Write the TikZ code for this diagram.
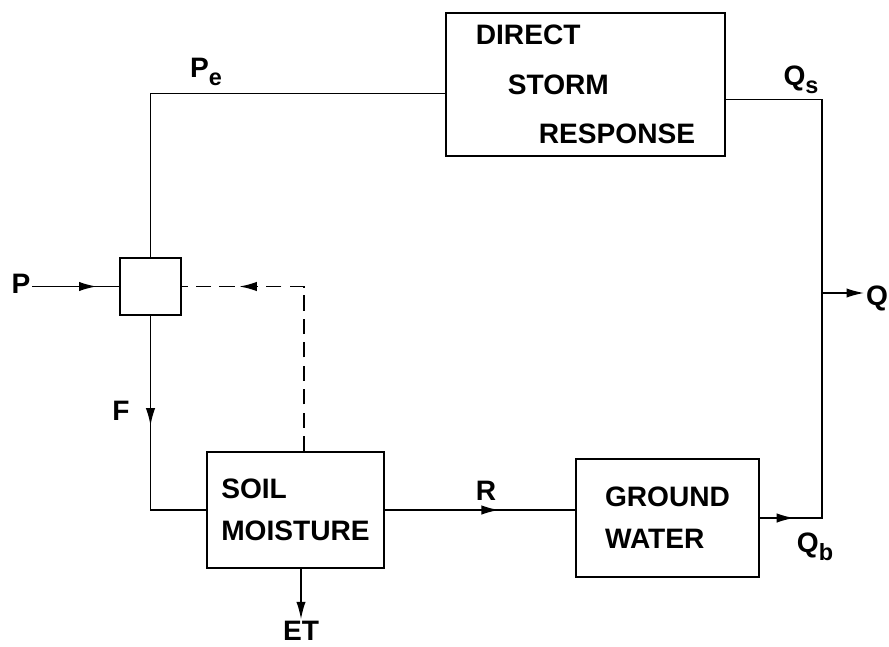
\documentclass[tikz,border=0pt]{standalone}
\usepackage{fontspec}
\setmainfont{Liberation Sans}
\usetikzlibrary{arrows.meta,decorations.markings}
\newcommand{\lowidx}[1]{\raisebox{-0.5ex}{\fontsize{20}{20}\selectfont\bfseries #1}}
\tikzset{
  flowline/.style={line width=1.4pt},
  feedback/.style={line width=1.4pt, dash pattern=on 13pt off 7pt},
  blockbox/.style={draw, line width=1.4pt, align=left, inner sep=0pt},
  junctionbox/.style={draw, line width=1.4pt, minimum width=1.83cm, minimum height=1.71cm, inner sep=0pt},
  varlabel/.style={inner sep=1.5pt},
  endarrow/.style={-{Latex[length=15pt, width=8pt]}},
  arrowat/.style={postaction={decorate}, decoration={markings, mark=at position #1 with {\arrow{Latex[length=15pt, width=8pt]}}}}
}

\begin{document}
\begin{tikzpicture}[x=0.03cm, y=-0.03cm, every node/.style={font=\fontsize{24}{36}\selectfont\bfseries}]
  \useasboundingbox (0,0) rectangle (889,647);
  \node[junctionbox] (mix) at (150.5,286.5) {};
  \node[blockbox, minimum width=8.37cm, minimum height=4.29cm, font=\fontsize{24}{42}\selectfont\bfseries] (storm) at (585.5,84.5) {DIRECT\\\hspace*{0.96cm}STORM\\\hspace*{1.89cm}RESPONSE};
  \node[blockbox, minimum width=5.31cm, minimum height=3.48cm] (soil) at (295.5,510) {SOIL\\MOISTURE};
  \node[blockbox, minimum width=5.49cm, minimum height=3.54cm] (ground) at (667.5,518) {GROUND\\WATER};

  \node[varlabel] (p) at (21,284) {P};
  \node[varlabel] (pe) at (206,72) {P\lowidx{e}};
  \node[varlabel] (f) at (121,411) {F};
  \node[varlabel] (et) at (301,631) {ET};
  \node[varlabel] (r) at (486,491) {R};
  \node[varlabel] (qs) at (801,80) {Q\lowidx{s}};
  \node[varlabel] (qb) at (815,547) {Q\lowidx{b}};
  \node[varlabel] (q) at (877,298) {Q};
  \coordinate (qj) at (822,293);

  \draw[flowline, arrowat=0.74] (p.east |- mix.west) -- (mix.west);
  \draw[flowline] (mix.north) |- ([yshift=-0.27cm]storm.west);
  \draw[flowline] ([yshift=-0.45cm]storm.east) -| (qj);
  \draw[flowline, arrowat=0.12] (ground.east) -| (qj);
  \draw[flowline, endarrow] (qj) -- (qj -| q.west);
  \draw[flowline, arrowat=0.44] (mix.south) |- (soil.west);
  \draw[feedback, arrowat=0.8] ([xshift=0.26cm]soil.north) |- (mix.east);
  \draw[flowline, arrowat=0.6] (soil.east) -- (soil.east -| ground.west);
  \draw[flowline, endarrow] (et.north |- soil.south) -- (et.north);
\end{tikzpicture}
\end{document}
